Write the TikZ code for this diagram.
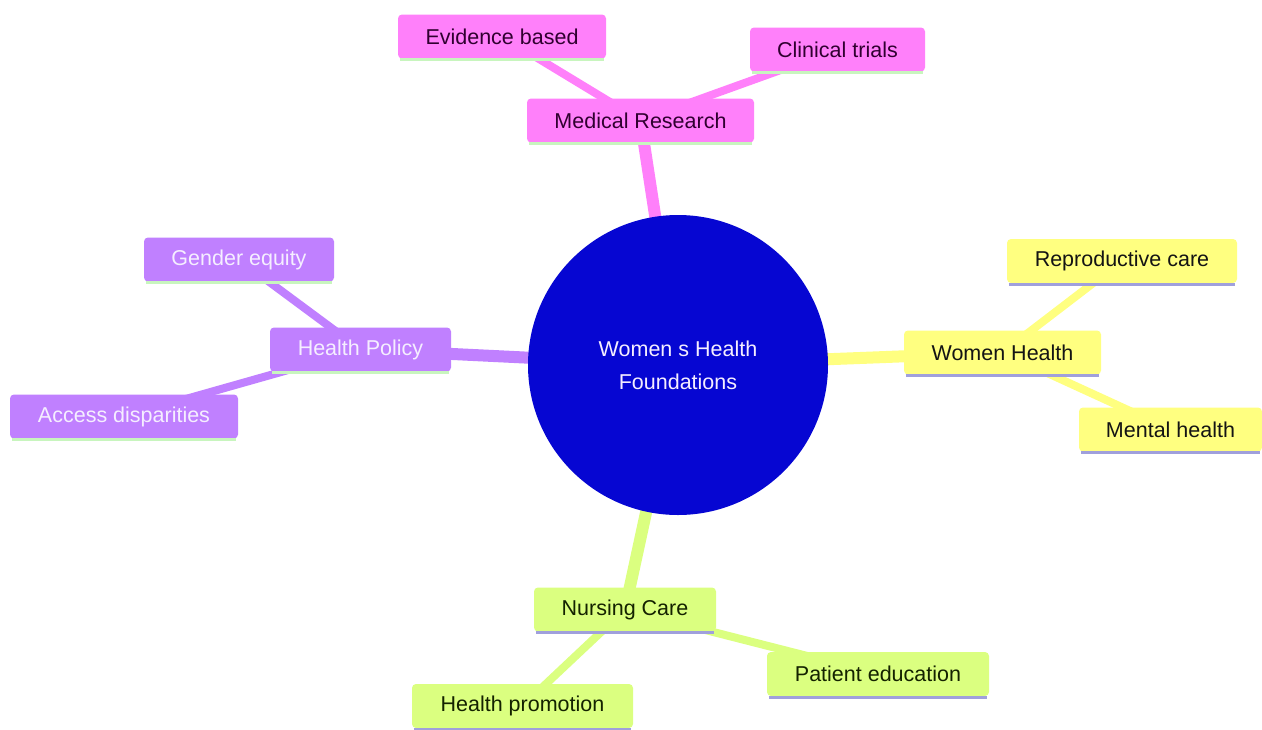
\documentclass[tikz,border=0pt]{standalone}
\usepackage{fontspec}
\setmainfont{Liberation Sans}
\usetikzlibrary{backgrounds}
\definecolor{rootblue}{RGB}{6,6,210}
\definecolor{pinkf}{RGB}{255,128,250}
\definecolor{purplef}{RGB}{192,128,255}
\definecolor{yellowf}{RGB}{255,255,128}
\definecolor{limef}{RGB}{219,255,128}
\definecolor{pinkt}{RGB}{48,0,48}
\definecolor{purplet}{RGB}{245,238,255}
\definecolor{yellowt}{RGB}{20,20,20}
\definecolor{limet}{RGB}{20,34,0}
\definecolor{greenline}{RGB}{200,245,190}
\definecolor{blueline}{RGB}{160,160,220}
\tikzset{
  box/.style={rectangle, rounded corners=4pt, minimum height=44pt, inner sep=0pt,
    font=\fontsize{21.5}{27}\selectfont},
  pinkbox/.style={box, fill=pinkf, text=pinkt},
  purplebox/.style={box, fill=purplef, text=purplet},
  yellowbox/.style={box, fill=yellowf, text=yellowt},
  limebox/.style={box, fill=limef, text=limet},
  rootnode/.style={circle, fill=rootblue, text=purplet, minimum size=300pt, inner sep=0pt,
    align=center, font=\fontsize{21.5}{33}\selectfont},
  mainedge/.style={line width=12pt},
  subedge/.style={line width=8pt},
  underline/.style={line width=3pt}
}
\begin{document}
\begin{tikzpicture}[x=1pt,y=-1pt]
\useasboundingbox (0,0) rectangle (1262,729);
% root
\node[rootnode] (root) at (678,365) {Women s Health\\Foundations};
% main branches
\node[pinkbox, minimum width=227pt] (med) at (640.5,120.5) {Medical Research};
\node[pinkbox, minimum width=208pt] (evid) at (502,36.5) {Evidence based};
\node[pinkbox, minimum width=175pt] (clin) at (837.5,49.5) {Clinical trials};
\node[purplebox, minimum width=181pt] (pol) at (360.5,349.5) {Health Policy};
\node[purplebox, minimum width=190pt] (gend) at (239,259.5) {Gender equity};
\node[purplebox, minimum width=228pt] (acc) at (124,416.5) {Access disparities};
\node[yellowbox, minimum width=197pt] (wh) at (1002.5,352.5) {Women Health};
\node[yellowbox, minimum width=230pt] (rep) at (1122,261) {Reproductive care};
\node[yellowbox, minimum width=183pt] (ment) at (1170.5,429.5) {Mental health};
\node[limebox, minimum width=182pt] (nurs) at (625,609.5) {Nursing Care};
\node[limebox, minimum width=221pt] (prom) at (522.5,706) {Health promotion};
\node[limebox, minimum width=222pt] (pat) at (878,674) {Patient education};
% underlines
\foreach \n/\c in {med/greenline,evid/greenline,clin/greenline,pol/greenline,gend/greenline,acc/greenline,
  wh/blueline,rep/blueline,ment/blueline,nurs/blueline,prom/blueline,pat/blueline}{
  \draw[underline, draw=\c] ([yshift=-1pt,xshift=2pt]\n.south west) -- ([yshift=-1pt,xshift=-2pt]\n.south east);
}
\begin{scope}[on background layer]
\fill[white] (0,0) rectangle (1262,729);
\draw[mainedge, pinkf] (root.center) -- (med.center);
\draw[subedge, pinkf] (med.center) -- (evid.center);
\draw[subedge, pinkf] (med.center) -- (clin.center);
\draw[mainedge, purplef] (root.center) -- (pol.center);
\draw[subedge, purplef] (pol.center) -- (gend.center);
\draw[subedge, purplef] (pol.center) -- (acc.center);
\draw[mainedge, yellowf] (root.center) -- (wh.center);
\draw[subedge, yellowf] (wh.center) -- (rep.center);
\draw[subedge, yellowf] (wh.center) -- (ment.center);
\draw[mainedge, limef] (root.center) -- (nurs.center);
\draw[subedge, limef] (nurs.center) -- (prom.center);
\draw[subedge, limef] (nurs.center) -- (pat.center);
\end{scope}
\end{tikzpicture}
\end{document}
